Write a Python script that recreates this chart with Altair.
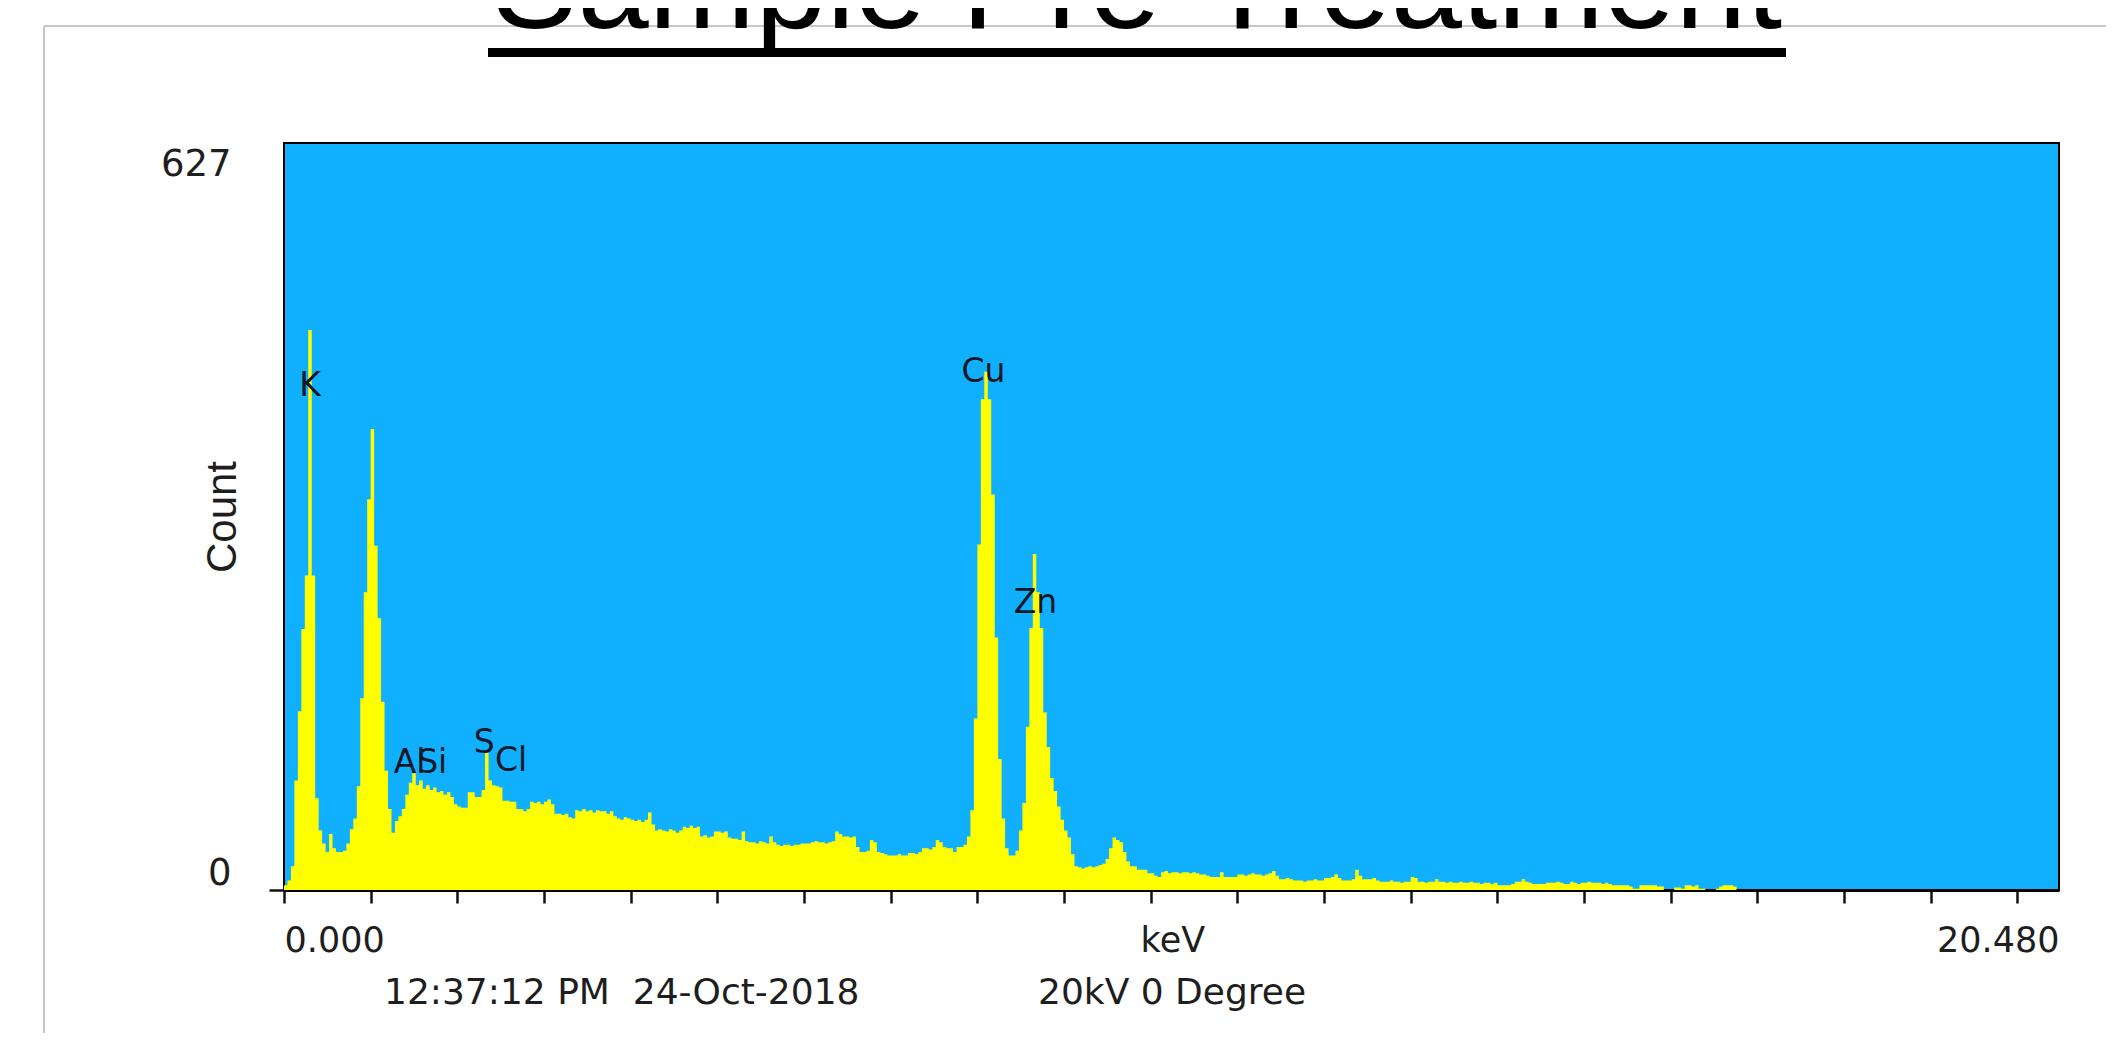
import altair as alt
import pandas as pd

# ---------------- data ----------------
CHANNEL_KEV = 0.04  # width of one plotted channel

counts_00_05 = [4, 8, 20, 92, 150, 219, 264, 470, 264, 77, 50, 39, 32]
counts_05_10 = [47, 35, 32, 32, 33, 39, 51, 60, 87, 161, 250, 328]
counts_10_20 = [387, 289, 228, 158, 100, 68, 48, 58, 62, 68, 80, 90, 98,
                88, 92, 85, 88, 84, 86, 82, 83, 80, 82, 78, 72]
counts_20_30 = [70, 69, 69, 82, 82, 78, 78, 84, 115, 92, 88, 87, 86,
                75, 75, 74, 74, 68, 68, 66, 68, 74, 73, 74, 72]
counts_30_40 = [74, 76, 72, 64, 64, 63, 64, 61, 60, 67, 66, 68, 66,
                67, 65, 67, 66, 66, 64, 66, 62, 60, 59, 61, 60]
counts_40_50 = [59, 58, 59, 57, 59, 65, 55, 50, 51, 50, 49, 51, 50,
                48, 50, 53, 52, 54, 52, 53, 45, 46, 44, 45, 49]
counts_50_60 = [49, 48, 49, 44, 43, 43, 42, 49, 41, 40, 40, 39, 41,
                40, 39, 45, 40, 38, 37, 38, 38, 37, 38, 38, 39]
counts_60_70 = [39, 39, 40, 41, 40, 40, 39, 40, 41, 49, 47, 45, 45,
                44, 45, 36, 32, 32, 33, 42, 40, 32, 31, 30, 29]
counts_70_80 = [29, 29, 30, 29, 29, 31, 31, 30, 32, 35, 35, 34, 36,
                42, 40, 36, 35, 35, 32, 36, 36, 38, 45, 67, 144]
counts_80_90 = [290, 412, 435, 412, 332, 212, 110, 60, 35, 29, 29, 33, 50,
                73, 137, 220, 282, 250, 220, 149, 120, 94, 83, 70, 59]
counts_90_100 = [50, 44, 30, 20, 19, 18, 19, 20, 19, 20, 21, 22, 26,
                 35, 44, 42, 40, 32, 24, 20, 20, 17, 17, 17, 14]
counts_100_110 = [14, 12, 11, 15, 16, 14, 15, 15, 14, 15, 15, 14, 15,
                  14, 13, 13, 12, 11, 11, 11, 15, 11, 11, 11, 11]
counts_110_120 = [13, 13, 12, 13, 14, 13, 13, 12, 13, 14, 16, 12, 9,
                  9, 10, 9, 8, 8, 8, 7, 8, 8, 9, 8, 8]
counts_120_130 = [10, 10, 11, 13, 10, 8, 8, 8, 9, 17, 12, 9, 9,
                  9, 10, 8, 7, 7, 7, 8, 7, 7, 6, 7, 7]
counts_130_140 = [11, 10, 7, 7, 6, 7, 7, 9, 7, 7, 6, 7, 6,
                  6, 7, 6, 6, 7, 6, 6, 5, 6, 6, 5, 6]
counts_140_150 = [4, 4, 4, 4, 5, 7, 7, 9, 7, 6, 5, 5, 5,
                  5, 6, 6, 6, 7, 6, 5, 5, 7, 6, 5, 6]
counts_150_160 = [6, 7, 6, 6, 6, 5, 6, 5, 4, 4, 4, 4, 4,
                  3, 1, 1, 4, 4, 4, 4, 4, 3, 3, 0, 0]
counts_160_170 = [0, 2, 2, 1, 4, 4, 3, 4, 1, 1, 0, 0, 0,
                  1, 3, 4, 4, 4, 3, 0, 0, 0, 0, 0, 0, 0]

counts = (counts_00_05 + counts_05_10 + counts_10_20 + counts_20_30 + counts_30_40
          + counts_40_50 + counts_50_60 + counts_60_70 + counts_70_80 + counts_80_90
          + counts_90_100 + counts_100_110 + counts_110_120 + counts_120_130
          + counts_130_140 + counts_140_150 + counts_150_160 + counts_160_170)
energy = [round(i * CHANNEL_KEV, 2) for i in range(len(counts))]

peak_names = ["K", "Al", "Si", "S", "Cl", "Cu", "Zn"]
peak_kev = [0.30, 1.45, 1.71, 2.31, 2.62, 8.07, 8.67]
peak_count = [423, 107, 107, 123, 108, 435, 241]

x_tick_values = list(range(0, 21)) + [10.25, 20.48]
y_tick_values = [0, 627]

title_text = "Sample Pre-Treatment"
footer_left = "12:37:12 PM\u00a0 24-Oct-2018"
footer_right = "20kV 0 Degree"

X_DOMAIN = [0, 20.48]
Y_DOMAIN = [0, 627]

spec_df = pd.DataFrame({"keV": energy, "count": counts})
peaks_df = pd.DataFrame({"keV": peak_kev, "count": peak_count, "name": peak_names})

LABEL_FONT = "DejaVu Sans"
TEXT_COLOR = "#1e1e1e"

xscale = alt.Scale(domain=X_DOMAIN, nice=False, zero=False)
yscale = alt.Scale(domain=Y_DOMAIN, nice=False, zero=False)

x_axis = alt.Axis(
    values=x_tick_values,
    labelExpr="datum.value == 0 ? '0.000' : (datum.value > 20.4 ? '20.480' : "
              "((datum.value > 10.1 && datum.value < 10.5) ? 'keV' : ''))",
    labelFlush=True,
    labelOverlap=False,
    labelFont=LABEL_FONT,
    labelFontSize=35,
    labelColor=TEXT_COLOR,
    labelPadding=20,
    tickSize=13,
    tickWidth=2.5,
    tickColor={"condition": {"test": "datum.value > 20.1 || (datum.value > 10.1 && datum.value < 10.5)",
                             "value": "transparent"},
               "value": "#111111"},
    domainColor="#000000",
    domainWidth=3,
    grid=False,
    title=None,
)

y_axis = alt.Axis(
    values=y_tick_values,
    labelFlush=True,
    labelFlushOffset=-0.5,
    labelOffset=2.5,
    labelOverlap=False,
    labelFont=LABEL_FONT,
    labelFontSize=37,
    labelColor=TEXT_COLOR,
    labelPadding=38,
    tickSize=15,
    tickWidth=2.5,
    tickColor={"condition": {"test": "datum.value > 0", "value": "transparent"},
               "value": "#111111"},
    domain=False,
    grid=False,
    title="Count",
    titleFont="Liberation Sans",
    titleFontSize=42,
    titleFontWeight="normal",
    titleColor=TEXT_COLOR,
    titleAngle=270,
    titleX=-62,
    titleY=373.5,
    titleAlign="center",
    titleBaseline="middle",
)

spectrum = alt.Chart(spec_df).mark_area(
    interpolate="step-after", color="#FFFF00", opacity=1
).encode(
    x=alt.X("keV:Q", scale=xscale, axis=x_axis),
    y=alt.Y("count:Q", scale=yscale, axis=y_axis),
)

peak_labels = alt.Chart(peaks_df).mark_text(
    font=LABEL_FONT, fontSize=33, color="#101828", align="center", baseline="middle"
).encode(
    x=alt.X("keV:Q", scale=xscale, axis=x_axis),
    y=alt.Y("count:Q", scale=yscale, axis=y_axis),
    text="name:N",
)

one = pd.DataFrame({"k": [0]})

# slide frame (light grey lines of the pasted screenshot)
frame_top = alt.Chart(one).mark_rule(color="#c8c8c8", strokeWidth=2).encode(
    x=alt.value(-240), x2=alt.value(1822), y=alt.value(-117))
frame_left = alt.Chart(one).mark_rule(color="#c8c8c8", strokeWidth=2).encode(
    x=alt.value(-240), y=alt.value(-117), y2=alt.value(890))

slide_title = alt.Chart(one).mark_text(
    text=title_text,
    font="'Liberation Sans', Arial, sans-serif",
    fontSize=128, color="#000000", align="center", baseline="alphabetic",
).encode(x=alt.value(853), y=alt.value(-115))

title_underline = alt.Chart(one).mark_rule(color="#000000", strokeWidth=9).encode(
    x=alt.value(204), x2=alt.value(1502), y=alt.value(-90.5))

footer_a = alt.Chart(one).mark_text(
    text=footer_left, font=LABEL_FONT, fontSize=36, color=TEXT_COLOR,
    align="left", baseline="middle",
).encode(x=alt.value(100), y=alt.value(850))
footer_b = alt.Chart(one).mark_text(
    text=footer_right, font=LABEL_FONT, fontSize=36, color=TEXT_COLOR,
    align="left", baseline="middle",
).encode(x=alt.value(754), y=alt.value(850))

chart = alt.layer(
    spectrum, peak_labels, frame_top, frame_left, slide_title, title_underline,
    footer_a, footer_b
).properties(
    width=1775,
    height=747,
    padding={"left": 276, "top": 135, "right": 47, "bottom": 143},
    autosize=alt.AutoSizeParams(type="none"),
    background="#ffffff",
).configure_view(
    fill="#10B0FF", stroke="#000000", strokeWidth=2
)

chart.save("out.html", embed_options={"renderer": "svg", "actions": False})
